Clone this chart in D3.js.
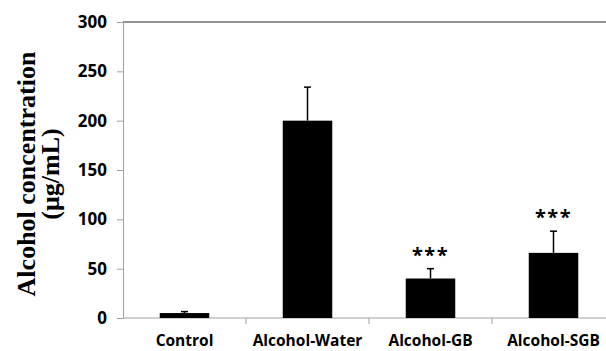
<!DOCTYPE html>
<html>
<head>
<meta charset="utf-8">
<script src="https://cdn.jsdelivr.net/npm/d3@7"></script>
<style>
  html, body { margin: 0; padding: 0; background: #fff; }
  svg { display: block; }
</style>
</head>
<body>
<svg id="chart" width="606" height="351"></svg>
<script>
// Alcohol concentration by treatment group (mean + SD)
const categories = ["Control", "Alcohol-Water", "Alcohol-GB", "Alcohol-SGB"];
const means = [5, 200, 40, 66];
const errors = [1.5, 34, 10, 22];
const marks = ["", "", "***", "***"];
const yTicks = [0, 50, 100, 150, 200, 250, 300];

const svg = d3.select("#chart");
const plotLeft = 123, plotTop = 22, plotBottom = 318, band = 123;

const x = d3.scaleBand()
  .domain(categories)
  .range([plotLeft, plotLeft + band * categories.length])
  .paddingInner(0).paddingOuter(0);

const y = d3.scaleLinear().domain([0, 300]).range([plotBottom, plotTop]);

const axisColor = "#a0a0a0";
const labelFont = "'Open Sans', sans-serif";

// top border of plot area
svg.append("line")
  .attr("x1", plotLeft).attr("x2", 606)
  .attr("y1", plotTop).attr("y2", plotTop)
  .attr("stroke", "#707070").attr("stroke-width", 1.5);

// y axis
const yAxis = svg.append("g")
  .attr("transform", `translate(${plotLeft},0)`)
  .call(d3.axisLeft(y).tickValues(yTicks).tickSize(6).tickPadding(10).tickSizeOuter(0));
yAxis.select(".domain").attr("stroke", axisColor);
yAxis.selectAll(".tick line").attr("stroke", axisColor);
yAxis.selectAll(".tick text")
  .attr("font-family", labelFont)
  .attr("font-weight", "bold")
  .attr("font-size", 17)
  .attr("fill", "#000");

// x axis
const xAxis = svg.append("g")
  .attr("transform", `translate(0,${plotBottom})`)
  .call(d3.axisBottom(x).tickSize(0).tickPadding(17).tickSizeOuter(0));
xAxis.select(".domain").attr("stroke", axisColor).attr("d", `M${plotLeft},0H606`);
xAxis.selectAll(".tick text")
  .attr("font-family", labelFont)
  .attr("font-weight", "bold")
  .attr("font-size", 15.5)
  .attr("fill", "#000");

// category dividers on x axis
svg.append("g").selectAll("line")
  .data(categories.slice(1))
  .join("line")
  .attr("x1", d => x(d)).attr("x2", d => x(d))
  .attr("y1", plotBottom).attr("y2", plotBottom + 6)
  .attr("stroke", axisColor);

const barW = 49.5;
const cx = d => x(d) + x.bandwidth() / 2;

// error bars (upper only)
const eg = svg.append("g");
categories.forEach((c, i) => {
  const yt = y(means[i] + errors[i]);
  eg.append("line")
    .attr("x1", cx(c)).attr("x2", cx(c))
    .attr("y1", y(means[i])).attr("y2", yt)
    .attr("stroke", "#000").attr("stroke-width", 1.5);
  eg.append("line")
    .attr("x1", cx(c) - 3.5).attr("x2", cx(c) + 3.5)
    .attr("y1", yt).attr("y2", yt)
    .attr("stroke", "#000").attr("stroke-width", 1.5);
});

// bars
svg.append("g").selectAll("rect")
  .data(categories)
  .join("rect")
  .attr("x", d => cx(d) - barW / 2)
  .attr("width", barW)
  .attr("y", (d, i) => y(means[i]))
  .attr("height", (d, i) => plotBottom - y(means[i]))
  .attr("fill", "#000");

// significance marks
svg.append("g").selectAll("text")
  .data(categories)
  .join("text")
  .attr("x", d => cx(d))
  .attr("y", (d, i) => y(means[i] + errors[i]) - 7)
  .attr("text-anchor", "middle")
  .attr("font-family", labelFont)
  .attr("font-weight", "bold")
  .attr("font-size", 20)
  .attr("letter-spacing", 1.5)
  .attr("fill", "#000")
  .text((d, i) => marks[i]);

// y axis title
const title = svg.append("text")
  .attr("transform", "translate(0,174) rotate(-90)")
  .attr("text-anchor", "middle")
  .attr("font-family", "'Liberation Serif', 'Times New Roman', serif")
  .attr("font-weight", "bold")
  .attr("font-size", 26)
  .attr("fill", "#000");
title.append("tspan").attr("x", 0).attr("y", 35).text("Alcohol concentration");
title.append("tspan").attr("x", 0).attr("y", 59).text("(μg/mL)");
</script>
</body>
</html>
